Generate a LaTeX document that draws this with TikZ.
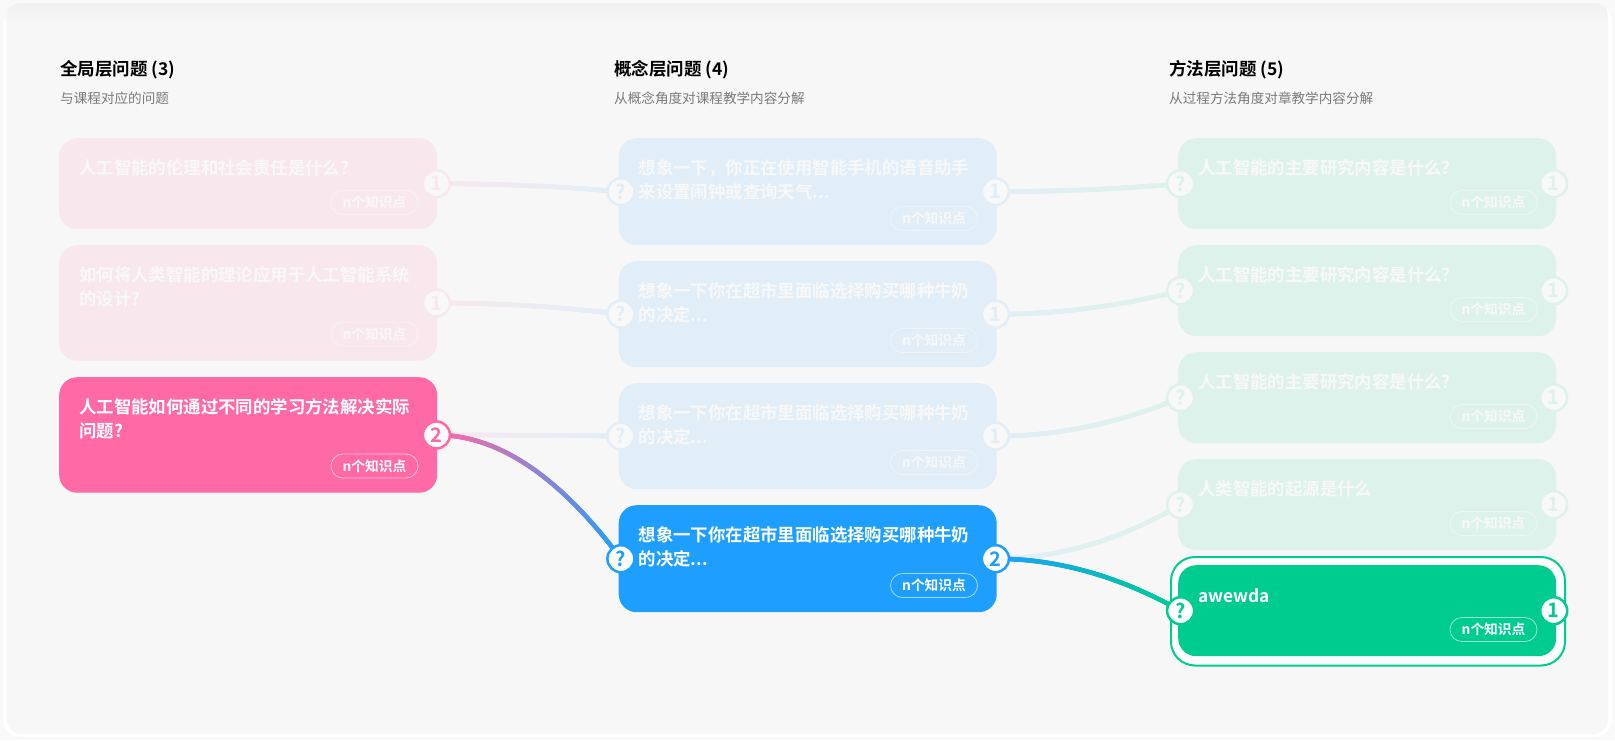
\documentclass[tikz,border=0pt]{standalone}
\usepackage{fontspec}
\setmainfont{Noto Sans CJK SC}[BoldFont={Noto Sans CJK SC Bold}]
\usetikzlibrary{calc,fadings,decorations.markings}

\definecolor{panelbg}{HTML}{F7F7F7}
\definecolor{pageedge}{HTML}{F9F9F9}
\definecolor{pinkon}{HTML}{FF69A5}
\definecolor{blueon}{HTML}{1E9FFF}
\definecolor{greenon}{HTML}{00CC8F}
\definecolor{pinkoff}{HTML}{F8E8EE}
\definecolor{blueoff}{HTML}{E1EEF7}
\definecolor{greenoff}{HTML}{DEF2EC}
\definecolor{textoff}{HTML}{F8F8F8}
\definecolor{subgray}{HTML}{7A7A7A}

\pgfdeclarelayer{bottom}
\pgfsetlayers{bottom,main}

\tikzset{
  x=1pt,y=-1pt,
  head/.style={anchor=base west,inner sep=0pt,text=black,font=\bfseries\fontsize{17.5}{20}\selectfont},
  subhead/.style={anchor=base west,inner sep=0pt,text=subgray,font=\fontsize{13.6}{16}\selectfont},
  card/.style={anchor=north west,rectangle,rounded corners=18pt,inner sep=0pt,minimum width=378pt},
  cardtitle/.style={anchor=north west,inner sep=0pt,align=left,font=\bfseries\fontsize{17.4}{24.7}\selectfont,execute at begin node=\strut},
  cardbadge/.style={anchor=south east,rectangle,rounded corners=12pt,inner sep=0pt,line width=0.8pt,minimum width=87pt,minimum height=24pt,font=\bfseries\fontsize{13.7}{16}\selectfont},
  qport/.style={circle,inner sep=0pt,minimum size=27pt,line width=2.5pt,font=\bfseries\fontsize{20}{20}\selectfont},
  gradlink/.style 2 args={postaction={decorate,decoration={markings,
    mark=between positions 0 and 1 step 0.8pt with {
      \pgfmathsetmacro\mixval{100*(1-\pgfkeysvalueof{/pgf/decoration/mark info/distance from start}/\pgfdecoratedpathlength)}
      \fill[color=#1!\mixval!#2] (0,0) circle (2.4pt);}}}}
}

\newcommand{\qlink}[3]{\path[#1] (#2.center) .. controls ($(#2.center)!.3333!(#3.center |- #2.center)$) and ($($(#2.center)!.5!(#3.center |- #2.center)$)!.3333!(#3.center)$) .. (#3.center);}

\begin{document}
\begin{tikzpicture}
\useasboundingbox (0,0) rectangle (1615,740);

% column heads
\node[head] (h1) at (60,75.5) {全局层问题 (3)};
\node[subhead] (s1) at (60,103) {与课程对应的问题};
\node[head] (h2) at (614,75.5) {概念层问题 (4)};
\node[subhead] (s2) at (614,103) {从概念角度对课程教学内容分解};
\node[head] (h3) at (1169,75.5) {方法层问题 (5)};
\node[subhead] (s3) at (1169,103) {从过程方法角度对章教学内容分解};

% first column
\node[card,fill=pinkoff,minimum height=91pt] (g1) at (59,138) {};
\node[cardtitle,text=textoff] (g1t) at ($(g1.north west)+(20,19.5)$) {人工智能的伦理和社会责任是什么?};
\node[cardbadge,draw=textoff!60!pinkoff,text=textoff] (g1b) at ($(g1.south east)+(-19,-14.5)$) {n个知识点};
\node[qport,draw=pinkoff,fill=textoff,text=pinkoff] (g1r) at ($(g1.east)+(-1,0)$) {1};

\node[card,fill=pinkoff,minimum height=115.5pt] (g2) at (59,245) {};
\node[cardtitle,text=textoff] (g2t) at ($(g2.north west)+(20,21)$) {如何将人类智能的理论应用于人工智能系统\\的设计?};
\node[cardbadge,draw=textoff!60!pinkoff,text=textoff] (g2b) at ($(g2.south east)+(-19,-14.5)$) {n个知识点};
\node[qport,draw=pinkoff,fill=textoff,text=pinkoff] (g2r) at ($(g2.east)+(-1,0)$) {1};

\node[card,fill=pinkon,minimum height=115.5pt] (g3) at (59,377) {};
\node[cardtitle,text=white] (g3t) at ($(g3.north west)+(20,21)$) {人工智能如何通过不同的学习方法解决实际\\问题?};
\node[cardbadge,draw=white!60!pinkon,text=white] (g3b) at ($(g3.south east)+(-19,-14.5)$) {n个知识点};
\node[qport,draw=pinkon,fill=white,text=pinkon] (g3r) at ($(g3.east)+(-1,0)$) {2};

% second column
\node[card,fill=blueoff,minimum height=107pt] (c1) at (618.5,138) {};
\node[cardtitle,text=textoff] (c1t) at ($(c1.north west)+(20,21)$) {想象一下，你正在使用智能手机的语音助手\\来设置闹钟或查询天气...};
\node[cardbadge,draw=textoff!60!blueoff,text=textoff] (c1b) at ($(c1.south east)+(-19,-14.5)$) {n个知识点};
\node[qport,draw=blueoff,fill=textoff,text=blueoff] (c1l) at ($(c1.west)+(2.4,0)$) {?};
\node[qport,draw=blueoff,fill=textoff,text=blueoff] (c1r) at ($(c1.east)+(-1.5,0)$) {1};

\node[card,fill=blueoff,minimum height=106pt] (c2) at (618.5,261) {};
\node[cardtitle,text=textoff] (c2t) at ($(c2.north west)+(20,21)$) {想象一下你在超市里面临选择购买哪种牛奶\\的决定...};
\node[cardbadge,draw=textoff!60!blueoff,text=textoff] (c2b) at ($(c2.south east)+(-19,-14.5)$) {n个知识点};
\node[qport,draw=blueoff,fill=textoff,text=blueoff] (c2l) at ($(c2.west)+(2.4,0)$) {?};
\node[qport,draw=blueoff,fill=textoff,text=blueoff] (c2r) at ($(c2.east)+(-1.5,0)$) {1};

\node[card,fill=blueoff,minimum height=106pt] (c3) at (618.5,383) {};
\node[cardtitle,text=textoff] (c3t) at ($(c3.north west)+(20,21)$) {想象一下你在超市里面临选择购买哪种牛奶\\的决定...};
\node[cardbadge,draw=textoff!60!blueoff,text=textoff] (c3b) at ($(c3.south east)+(-19,-14.5)$) {n个知识点};
\node[qport,draw=blueoff,fill=textoff,text=blueoff] (c3l) at ($(c3.west)+(2.4,0)$) {?};
\node[qport,draw=blueoff,fill=textoff,text=blueoff] (c3r) at ($(c3.east)+(-1.5,0)$) {1};

\node[card,fill=blueon,minimum height=107pt] (c4) at (618.5,505) {};
\node[cardtitle,text=white] (c4t) at ($(c4.north west)+(20,21)$) {想象一下你在超市里面临选择购买哪种牛奶\\的决定...};
\node[cardbadge,draw=white!60!blueon,text=white] (c4b) at ($(c4.south east)+(-19,-14.5)$) {n个知识点};
\node[qport,draw=blueon,fill=white,text=blueon] (c4l) at ($(c4.west)+(2.4,0)$) {?};
\node[qport,draw=blueon,fill=white,text=blueon] (c4r) at ($(c4.east)+(-1.5,0)$) {2};

% third column
\node[card,fill=greenoff,minimum height=91pt] (m1) at (1178,138) {};
\node[cardtitle,text=textoff] (m1t) at ($(m1.north west)+(20,19.5)$) {人工智能的主要研究内容是什么?};
\node[cardbadge,draw=textoff!60!greenoff,text=textoff] (m1b) at ($(m1.south east)+(-19,-14.5)$) {n个知识点};
\node[qport,draw=greenoff,fill=textoff,text=greenoff] (m1l) at ($(m1.west)+(2.6,0)$) {?};
\node[qport,draw=greenoff,fill=textoff,text=greenoff] (m1r) at ($(m1.east)+(-2.7,0)$) {1};

\node[card,fill=greenoff,minimum height=91pt] (m2) at (1178,245) {};
\node[cardtitle,text=textoff] (m2t) at ($(m2.north west)+(20,19.5)$) {人工智能的主要研究内容是什么?};
\node[cardbadge,draw=textoff!60!greenoff,text=textoff] (m2b) at ($(m2.south east)+(-19,-14.5)$) {n个知识点};
\node[qport,draw=greenoff,fill=textoff,text=greenoff] (m2l) at ($(m2.west)+(2.6,0)$) {?};
\node[qport,draw=greenoff,fill=textoff,text=greenoff] (m2r) at ($(m2.east)+(-2.7,0)$) {1};

\node[card,fill=greenoff,minimum height=91pt] (m3) at (1178,352) {};
\node[cardtitle,text=textoff] (m3t) at ($(m3.north west)+(20,19.5)$) {人工智能的主要研究内容是什么?};
\node[cardbadge,draw=textoff!60!greenoff,text=textoff] (m3b) at ($(m3.south east)+(-19,-14.5)$) {n个知识点};
\node[qport,draw=greenoff,fill=textoff,text=greenoff] (m3l) at ($(m3.west)+(2.6,0)$) {?};
\node[qport,draw=greenoff,fill=textoff,text=greenoff] (m3r) at ($(m3.east)+(-2.7,0)$) {1};

\node[card,fill=greenoff,minimum height=91pt] (m4) at (1178,459) {};
\node[cardtitle,text=textoff] (m4t) at ($(m4.north west)+(20,19.5)$) {人类智能的起源是什么};
\node[cardbadge,draw=textoff!60!greenoff,text=textoff] (m4b) at ($(m4.south east)+(-19,-14.5)$) {n个知识点};
\node[qport,draw=greenoff,fill=textoff,text=greenoff] (m4l) at ($(m4.west)+(2.6,0)$) {?};
\node[qport,draw=greenoff,fill=textoff,text=greenoff] (m4r) at ($(m4.east)+(-2.7,0)$) {1};

\node[card,draw=greenon,fill=white,line width=2pt,rounded corners=24pt,minimum width=394pt,minimum height=108.5pt] (m5o) at (1170,556) {};
\node[card,fill=greenon,minimum height=91pt] (m5) at (1178,565) {};
\node[cardtitle,text=white] (m5t) at ($(m5.north west)+(20,19.5)$) {awewda};
\node[cardbadge,draw=white!60!greenon,text=white] (m5b) at ($(m5.south east)+(-19,-14.5)$) {n个知识点};
\node[qport,draw=greenon,fill=white,text=greenon] (m5l) at ($(m5.west)+(2.6,0)$) {?};
\node[qport,draw=greenon,fill=white,text=greenon] (m5r) at ($(m5.east)+(-2.7,0)$) {1};

\begin{pgfonlayer}{bottom}
% panel
\fill[pageedge] (0,0) rectangle (1615,740);
\fill[white,rounded corners=18pt] (3,3) rectangle (1612,737);
\fill[panelbg,rounded corners=14pt] (7,3) rectangle (1608,734);
\begin{scope}
\clip[rounded corners=18pt] (3,3) rectangle (1612,737);
\fill[color=black!5,path fading=south] (3,3) rectangle (1612,24);
\end{scope}

% faded links
\qlink{gradlink={pinkoff}{blueoff}}{g1r}{c1l}
\qlink{gradlink={pinkoff}{blueoff}}{g2r}{c2l}
\qlink{gradlink={pinkoff}{blueoff}}{g3r}{c3l}
\qlink{gradlink={blueoff}{greenoff}}{c1r}{m1l}
\qlink{gradlink={blueoff}{greenoff}}{c2r}{m2l}
\qlink{gradlink={blueoff}{greenoff}}{c3r}{m3l}
\qlink{gradlink={blueoff}{greenoff}}{c4r}{m4l}

% active links
\qlink{gradlink={pinkon}{blueon}}{g3r}{c4l}
\qlink{gradlink={blueon}{greenon}}{c4r}{m5l}
\end{pgfonlayer}
\end{tikzpicture}
\end{document}
